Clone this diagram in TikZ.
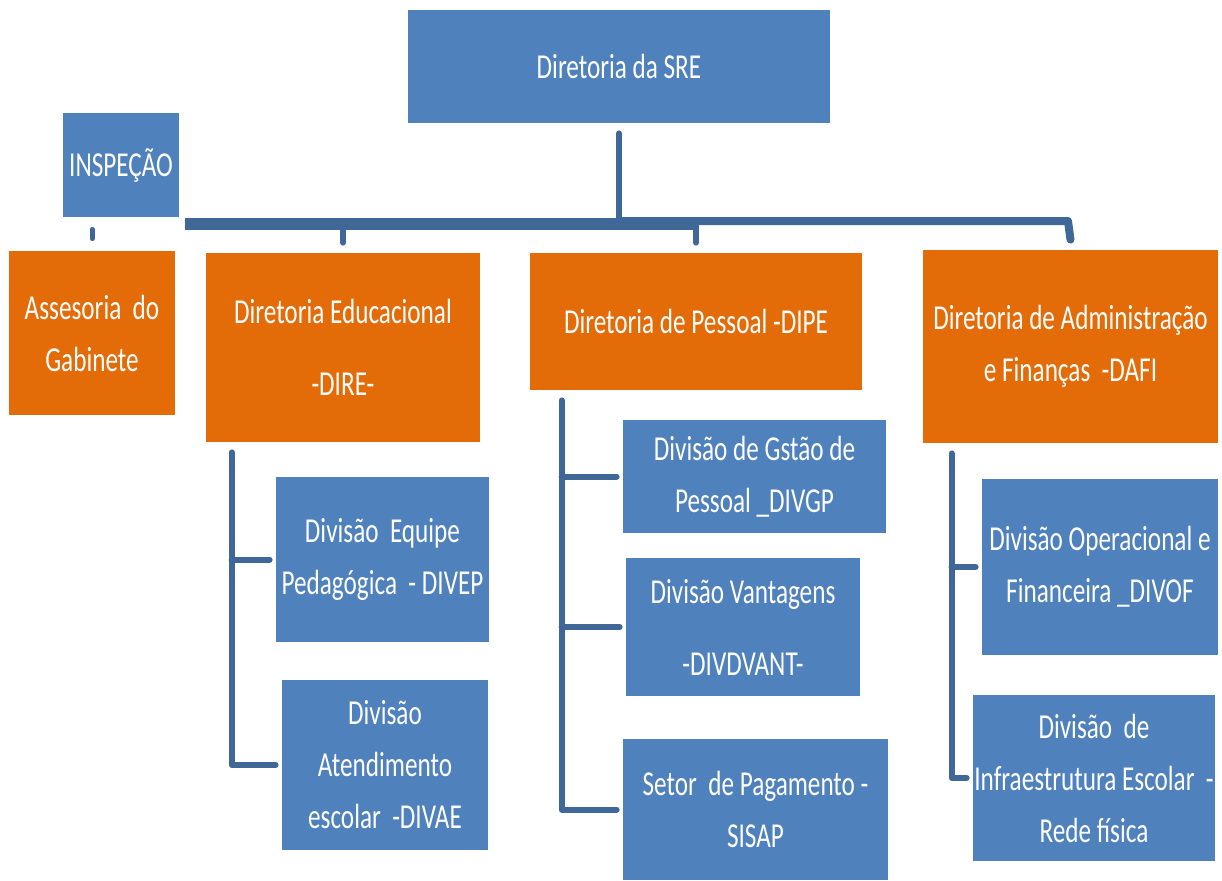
\documentclass[tikz,border=0pt]{standalone}
\usepackage{fontspec}
\setmainfont{Carlito}[FakeStretch=0.72]
\usepackage{tikz}
\definecolor{azul}{HTML}{4F81BD}
\definecolor{laranja}{HTML}{E36C09}
\definecolor{linha}{HTML}{3F6797}
\begin{document}
\begin{tikzpicture}[line cap=round,line join=round,x=0.5pt,y=-0.5pt,
  caixa/.style={inner sep=0pt,align=center,text=white,font=\fontsize{17.5}{26}\selectfont},
  azulbox/.style={caixa,fill=azul},
  larbox/.style={caixa,fill=laranja},
  ramo/.style={draw=linha,line width=3pt}]
\useasboundingbox (0,0) rectangle (1222,880);
%\fill[white] (0,0) rectangle (1222,880);
\node[azulbox,minimum width=211pt,minimum height=56.5pt] (sre) at (619,66.5) {Diretoria da SRE};
\node[azulbox,minimum width=58pt,minimum height=52pt] (insp) at (121,165) {INSPEÇÃO};
\node[larbox,minimum width=83pt,minimum height=82pt] (ases) at (92,333) {Assesoria~ do\\Gabinete};
\node[larbox,minimum width=137pt,minimum height=94.5pt] (dire) at (343,347.5) {Diretoria Educacional\\[10pt]-DIRE-};
\node[larbox,minimum width=166pt,minimum height=68.5pt] (dipe) at (696,321.5) {Diretoria de Pessoal -DIPE};
\node[larbox,minimum width=147.5pt,minimum height=96.5pt] (dafi) at (1070.5,346.5) {Diretoria de Administração\\e Finanças~ -DAFI};
% divisoes da DIRE
\node[azulbox,minimum width=106.5pt,minimum height=82.5pt] (divep) at (382.5,559.5) {Divisão~ Equipe\\Pedagógica~ - DIVEP};
\node[azulbox,minimum width=103pt,minimum height=85pt] (divae) at (385,765) {Divisão\\Atendimento\\escolar~ -DIVAE};
% divisoes da DIPE
\node[azulbox,minimum width=131.5pt,minimum height=56.5pt] (divgp) at (754.5,476.5) {Divisão de Gstão de\\Pessoal \_DIVGP};
\node[azulbox,minimum width=117pt,minimum height=69pt] (divdvant) at (743,627) {Divisão Vantagens\\[10pt]-DIVDVANT-};
\node[azulbox,minimum width=132.5pt,minimum height=70.5pt] (sisap) at (755.5,809.5) {Setor~ de Pagamento -\\SISAP};
% divisoes da DAFI
\node[azulbox,minimum width=118pt,minimum height=88pt] (divof) at (1100,567) {Divisão Operacional e\\Financeira \_DIVOF};
\node[azulbox,minimum width=121pt,minimum height=83pt] (infra) at (1094,778) {Divisão~ de\\Infraestrutura Escolar~ -\\Rede física};
% tronco
\coordinate (bE) at (185,224);
\coordinate (bM) at (696,224);
\coordinate (bD) at (1068,221);
\draw[ramo,line width=6pt,line cap=butt] (bE) -- (bM);
\draw[ramo,line width=4pt] (sre.south |- bD) -- (bD) -- ([yshift=5pt]dafi.north);
\draw[ramo] ([yshift=-5pt]sre.south) -- (sre.south |- bD);
\draw[ramo] (dire.north |- bE) -- ([yshift=5pt]dire.north);
\draw[ramo] (dipe.north |- bE) -- ([yshift=5pt]dipe.north);
\draw[ramo,line width=2.5pt] ([yshift=-6pt]ases.north |- insp.south) -- ([yshift=6pt]ases.north);
% ramos
\coordinate (eE) at ([xshift=13pt,yshift=-5pt]dire.south west);
\coordinate (eP) at ([xshift=16pt,yshift=-5pt]dipe.south west);
\coordinate (eD) at ([xshift=14.5pt,yshift=-5pt]dafi.south west);
\draw[ramo] (eE) |- ([xshift=-3pt]divae.west);
\draw[ramo] (eE |- divep.west) -- ([xshift=-3pt]divep.west);
\draw[ramo] (eP) |- ([xshift=-3pt]sisap.west);
\draw[ramo] (eP |- divgp.west) -- ([xshift=-3pt]divgp.west);
\draw[ramo] (eP |- divdvant.west) -- ([xshift=-3pt]divdvant.west);
\draw[ramo] (eD) |- ([xshift=-3pt]infra.west);
\draw[ramo] (eD |- divof.west) -- ([xshift=-3pt]divof.west);
\end{tikzpicture}
\end{document}
